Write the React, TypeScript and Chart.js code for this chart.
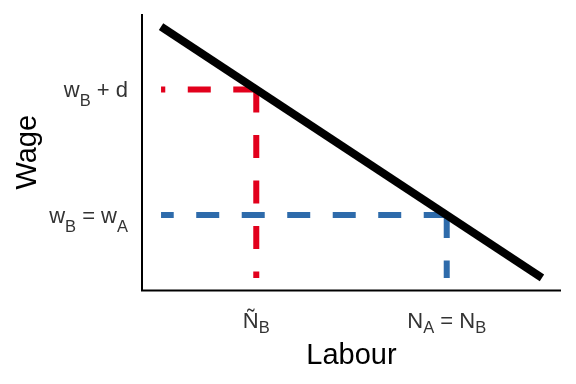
import React, { useEffect, useRef } from "react";
import { Chart, registerables } from "chart.js";

Chart.register(...registerables);

// Demand line (labour, wage)
const demandLabour = [1, 9];
const demandWage = [9, 1];

// Reference levels
const labourTildeB = 3;
const wageBplusD = 7;
const labourAB = 7;
const wageBA = 3;
const labourMin = 1;
const wageMin = 1;

// Axis ranges
const labourRange = [0.6, 9.4];
const wageRange = [0.6, 9.4];

// Tick labels (with _{...} subscripts)
const yTickValues = [wageBplusD, wageBA];
const yTickLabels = ["w_{B} + d", "w_{B} = w_{A}"];
const xTickValues = [labourTildeB, labourAB];
const xTickLabels = ["Ñ_{B}", "N_{A} = N_{B}"];

const xTitle = "Labour";
const yTitle = "Wage";

const RED = "#E2001C";
const BLUE = "#2E6BAB";
const FONT = "'Liberation Sans', Arial, sans-serif";

type Seg = { t: string; sub: boolean };
function parse(label: string): Seg[] {
  const out: Seg[] = [];
  const re = /_\{([^}]*)\}/g;
  let last = 0;
  let m: RegExpExecArray | null;
  while ((m = re.exec(label))) {
    if (m.index > last) out.push({ t: label.slice(last, m.index), sub: false });
    out.push({ t: m[1], sub: true });
    last = m.index + m[0].length;
  }
  if (last < label.length) out.push({ t: label.slice(last), sub: false });
  return out;
}

function drawRich(
  ctx: CanvasRenderingContext2D,
  label: string,
  x: number,
  y: number,
  align: "left" | "center" | "right",
  mainSize: number,
  subSize: number,
  subShift: number
) {
  const segs = parse(label);
  const widths = segs.map((s) => {
    ctx.font = `${s.sub ? subSize : mainSize}px ${FONT}`;
    return ctx.measureText(s.t).width;
  });
  const total = widths.reduce((a, b) => a + b, 0);
  let cx = align === "left" ? x : align === "center" ? x - total / 2 : x - total;
  ctx.textAlign = "left";
  ctx.textBaseline = "alphabetic";
  segs.forEach((s, i) => {
    ctx.font = `${s.sub ? subSize : mainSize}px ${FONT}`;
    ctx.fillText(s.t, cx, s.sub ? y + subShift : y);
    cx += widths[i];
  });
}

const axesPlugin = {
  id: "econAxes",
  afterDraw(chart: any) {
    const ctx: CanvasRenderingContext2D = chart.ctx;
    const { left, right, top, bottom } = chart.chartArea;
    const xs = chart.scales.x;
    const ys = chart.scales.y;
    ctx.save();
    ctx.strokeStyle = "#000";
    ctx.lineWidth = 2;
    ctx.lineCap = "butt";
    ctx.beginPath();
    ctx.moveTo(left, top);
    ctx.lineTo(left, bottom);
    ctx.lineTo(right, bottom);
    ctx.stroke();

    ctx.fillStyle = "#333";
    yTickValues.forEach((v, i) => {
      const py = ys.getPixelForValue(v);
      drawRich(ctx, yTickLabels[i], left - 14, py + 7.5, "right", 22, 16.5, 9);
    });
    xTickValues.forEach((v, i) => {
      const px = xs.getPixelForValue(v);
      drawRich(ctx, xTickLabels[i], px, bottom + 37.5, "center", 22, 16.5, 5);
    });

    ctx.fillStyle = "#000";
    ctx.font = `29px ${FONT}`;
    ctx.textAlign = "center";
    ctx.textBaseline = "alphabetic";
    ctx.fillText(xTitle, (left + right) / 2, 364);
    ctx.save();
    ctx.translate(36, (top + bottom) / 2);
    ctx.rotate(-Math.PI / 2);
    ctx.fillText(yTitle, 0, 0);
    ctx.restore();
    ctx.restore();
  },
};

export default function App() {
  const ref = useRef<HTMLCanvasElement>(null);
  useEffect(() => {
    if (!ref.current) return;
    const dash = [23, 22.5];
    const chart = new Chart(ref.current, {
      type: "line",
      data: {
        datasets: [
          {
            data: demandLabour.map((x, i) => ({ x, y: demandWage[i] })),
            borderColor: "#000",
            borderWidth: 8,
            borderCapStyle: "butt",
            pointRadius: 0,
          },
          {
            data: [
              { x: labourTildeB, y: wageBplusD },
              { x: labourMin, y: wageBplusD },
            ],
            borderColor: RED,
            borderWidth: 6,
            borderDash: dash,
            borderCapStyle: "butt",
            pointRadius: 0,
          },
          {
            data: [
              { x: labourTildeB, y: wageBplusD },
              { x: labourTildeB, y: wageMin },
            ],
            borderColor: RED,
            borderWidth: 6,
            borderDash: dash,
            borderCapStyle: "butt",
            pointRadius: 0,
          },
          {
            data: [
              { x: labourAB, y: wageBA },
              { x: labourMin, y: wageBA },
            ],
            borderColor: BLUE,
            borderWidth: 6,
            borderDash: dash,
            borderCapStyle: "butt",
            pointRadius: 0,
          },
          {
            data: [
              { x: labourAB, y: wageBA },
              { x: labourAB, y: wageMin },
            ],
            borderColor: BLUE,
            borderWidth: 6,
            borderDash: dash,
            borderCapStyle: "butt",
            pointRadius: 0,
          },
        ],
      },
      options: {
        animation: false,
        responsive: false,
        events: [],
        layout: { padding: { left: 142, top: 14, right: 15, bottom: 93.5 } },
        plugins: { legend: { display: false }, tooltip: { enabled: false } },
        scales: {
          x: { type: "linear", min: labourRange[0], max: labourRange[1], display: false },
          y: { type: "linear", min: wageRange[0], max: wageRange[1], display: false },
        },
        datasets: { line: { clip: false } as any },
      } as any,
      plugins: [axesPlugin],
    });
    return () => chart.destroy();
  }, []);
  return (
    <div style={{ position: "absolute", left: 0, top: 0, width: 576, height: 384, background: "#fff" }}>
      <canvas ref={ref} width={576} height={384} />
    </div>
  );
}
